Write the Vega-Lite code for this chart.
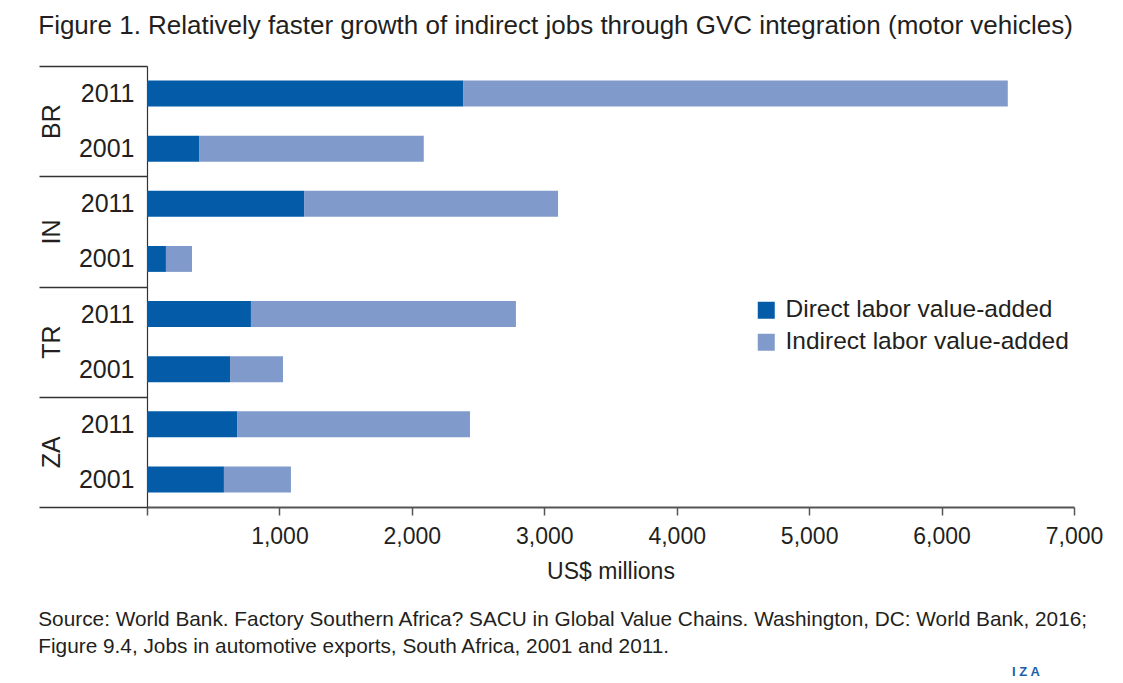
{
  "$schema": "https://vega.github.io/schema/vega-lite/v6.json",
  "padding": {"left": 38, "top": 13, "right": 5, "bottom": 0},
  "background": "white",
  "title": {
    "text": "Figure 1. Relatively faster growth of indirect jobs through GVC integration (motor vehicles)",
    "anchor": "start",
    "font": "Liberation Sans",
    "fontSize": 26,
    "fontWeight": "normal",
    "color": "#231f20",
    "offset": 26
  },
  "vconcat": [
    {
      "title": {
        "text": "I Z A",
        "orient": "bottom",
        "anchor": "end",
        "font": "Liberation Sans",
        "fontSize": 13,
        "fontWeight": "bold",
        "color": "#1a5fa8",
        "dx": -63,
        "offset": 9
      },
      "vconcat": [
        {
          "title": {
            "text": ["Source: World Bank. Factory Southern Africa? SACU in Global Value Chains. Washington, DC: World Bank, 2016;", "Figure 9.4, Jobs in automotive exports, South Africa, 2001 and 2011."],
            "orient": "bottom",
            "anchor": "start",
            "font": "Liberation Sans",
            "fontSize": 20.8,
            "fontWeight": "normal",
            "color": "#231f20",
            "lineHeight": 27,
            "offset": 27
          },
          "width": 927,
          "height": 441,
          "data": {
            "values": [
              {"key": "BR 2011", "country": "BR", "year": "2011", "type": "Direct labor value-added", "value": 2390},
              {"key": "BR 2011", "country": "BR", "year": "2011", "type": "Indirect labor value-added", "value": 4110},
              {"key": "BR 2001", "country": "BR", "year": "2001", "type": "Direct labor value-added", "value": 393},
              {"key": "BR 2001", "country": "BR", "year": "2001", "type": "Indirect labor value-added", "value": 1697},
              {"key": "IN 2011", "country": "IN", "year": "2011", "type": "Direct labor value-added", "value": 1186},
              {"key": "IN 2011", "country": "IN", "year": "2011", "type": "Indirect labor value-added", "value": 1918},
              {"key": "IN 2001", "country": "IN", "year": "2001", "type": "Direct labor value-added", "value": 143},
              {"key": "IN 2001", "country": "IN", "year": "2001", "type": "Indirect labor value-added", "value": 197},
              {"key": "TR 2011", "country": "TR", "year": "2011", "type": "Direct labor value-added", "value": 785},
              {"key": "TR 2011", "country": "TR", "year": "2011", "type": "Indirect labor value-added", "value": 2001},
              {"key": "TR 2001", "country": "TR", "year": "2001", "type": "Direct labor value-added", "value": 627},
              {"key": "TR 2001", "country": "TR", "year": "2001", "type": "Indirect labor value-added", "value": 400},
              {"key": "ZA 2011", "country": "ZA", "year": "2011", "type": "Direct labor value-added", "value": 680},
              {"key": "ZA 2011", "country": "ZA", "year": "2011", "type": "Indirect labor value-added", "value": 1759},
              {"key": "ZA 2001", "country": "ZA", "year": "2001", "type": "Direct labor value-added", "value": 581},
              {"key": "ZA 2001", "country": "ZA", "year": "2001", "type": "Indirect labor value-added", "value": 506}
            ]
          },
          "layer": [
            {
              "mark": {"type": "bar"},
              "encoding": {
                "y": {
                  "field": "key",
                  "type": "nominal",
                  "scale": {
                    "domain": ["BR 2011", "BR 2001", "IN 2011", "IN 2001", "TR 2011", "TR 2001", "ZA 2011", "ZA 2001"],
                    "paddingInner": 0.53,
                    "paddingOuter": 0.265
                  },
                  "axis": {
                    "orient": "left",
                    "title": null,
                    "bandPosition": 0.5,
                    "labelExpr": "substring(datum.value, 3)",
                    "labelFontSize": 25,
                    "labelColor": "#231f20",
                    "labelAlign": "right",
                    "labelBaseline": "middle",
                    "labelPadding": -95,
                    "labelOffset": 27.5625,
                    "tickOffset": -27.5625,
                    "tickSize": 108,
                    "tickWidth": 1.5,
                    "tickColor": "#333333",
                    "tickOpacity": {"condition": {"test": "indexof(datum.value, '2011') >= 0", "value": 1}, "value": 0},
                    "domain": true,
                    "domainColor": "#333333",
                    "domainWidth": 1.2,
                    "grid": false
                  }
                },
                "x": {
                  "field": "value",
                  "type": "quantitative",
                  "stack": "zero",
                  "scale": {"domain": [0, 7000], "nice": false},
                  "axis": {
                    "title": "US$ millions",
                    "titleFontSize": 23,
                    "titleFontWeight": "normal",
                    "titleColor": "#231f20",
                    "titlePadding": 12,
                    "values": [0, 1000, 2000, 3000, 4000, 5000, 6000, 7000],
                    "labelExpr": "datum.value == 0 ? '' : format(datum.value, ',')",
                    "labelFontSize": 23,
                    "labelColor": "#231f20",
                    "labelPadding": 10,
                    "labelFlush": false,
                    "tickSize": 8,
                    "tickWidth": 1.5,
                    "tickColor": "#555555",
                    "domainColor": "#555555",
                    "domainWidth": 1.8,
                    "grid": false
                  }
                },
                "color": {
                  "field": "type",
                  "type": "nominal",
                  "scale": {
                    "domain": ["Direct labor value-added", "Indirect labor value-added"],
                    "range": ["#045ca9", "#809bcb"]
                  },
                  "legend": {
                    "title": null,
                    "orient": "none",
                    "legendX": 607,
                    "legendY": 232,
                    "symbolType": "square",
                    "symbolSize": 289,
                    "symbolStrokeWidth": 0,
                    "symbolOpacity": 1,
                    "labelFontSize": 24.5,
                    "labelColor": "#231f20",
                    "labelLimit": 0,
                    "labelOffset": 7,
                    "rowPadding": 7,
                    "padding": 0
                  }
                }
              }
            },
            {
              "mark": {"type": "bar", "opacity": 0},
              "encoding": {
                "y": {
                  "field": "key",
                  "type": "nominal",
                  "scale": {
                    "domain": ["BR 2011", "BR 2001", "IN 2011", "IN 2001", "TR 2011", "TR 2001", "ZA 2011", "ZA 2001"],
                    "paddingInner": 0.53,
                    "paddingOuter": 0.265
                  },
                  "axis": {
                    "orient": "left",
                    "title": null,
                    "bandPosition": 0.5,
                    "labelExpr": "indexof(datum.value, '2011') >= 0 ? substring(datum.value, 0, 2) : ''",
                    "labelAngle": -90,
                    "labelAlign": "center",
                    "labelBaseline": "bottom",
                    "labelFontSize": 25,
                    "labelColor": "#231f20",
                    "labelPadding": -25,
                    "labelOffset": 0,
                    "tickOffset": 27.5625,
                    "tickSize": 108,
                    "tickWidth": 1.5,
                    "tickColor": "#333333",
                    "tickOpacity": {"condition": {"test": "datum.value == 'ZA 2001'", "value": 1}, "value": 0},
                    "domain": false,
                    "grid": false
                  }
                },
                "x": {
                  "field": "value",
                  "type": "quantitative",
                  "stack": "zero",
                  "scale": {"domain": [0, 7000], "nice": false}
                }
              }
            }
          ],
          "resolve": {"axis": {"y": "independent"}}
        }
      ]
    }
  ],
  "config": {
    "font": "Liberation Sans",
    "view": {"stroke": null},
    "axis": {"labelFont": "Liberation Sans", "titleFont": "Liberation Sans"},
    "legend": {"labelFont": "Liberation Sans"}
  }
}
